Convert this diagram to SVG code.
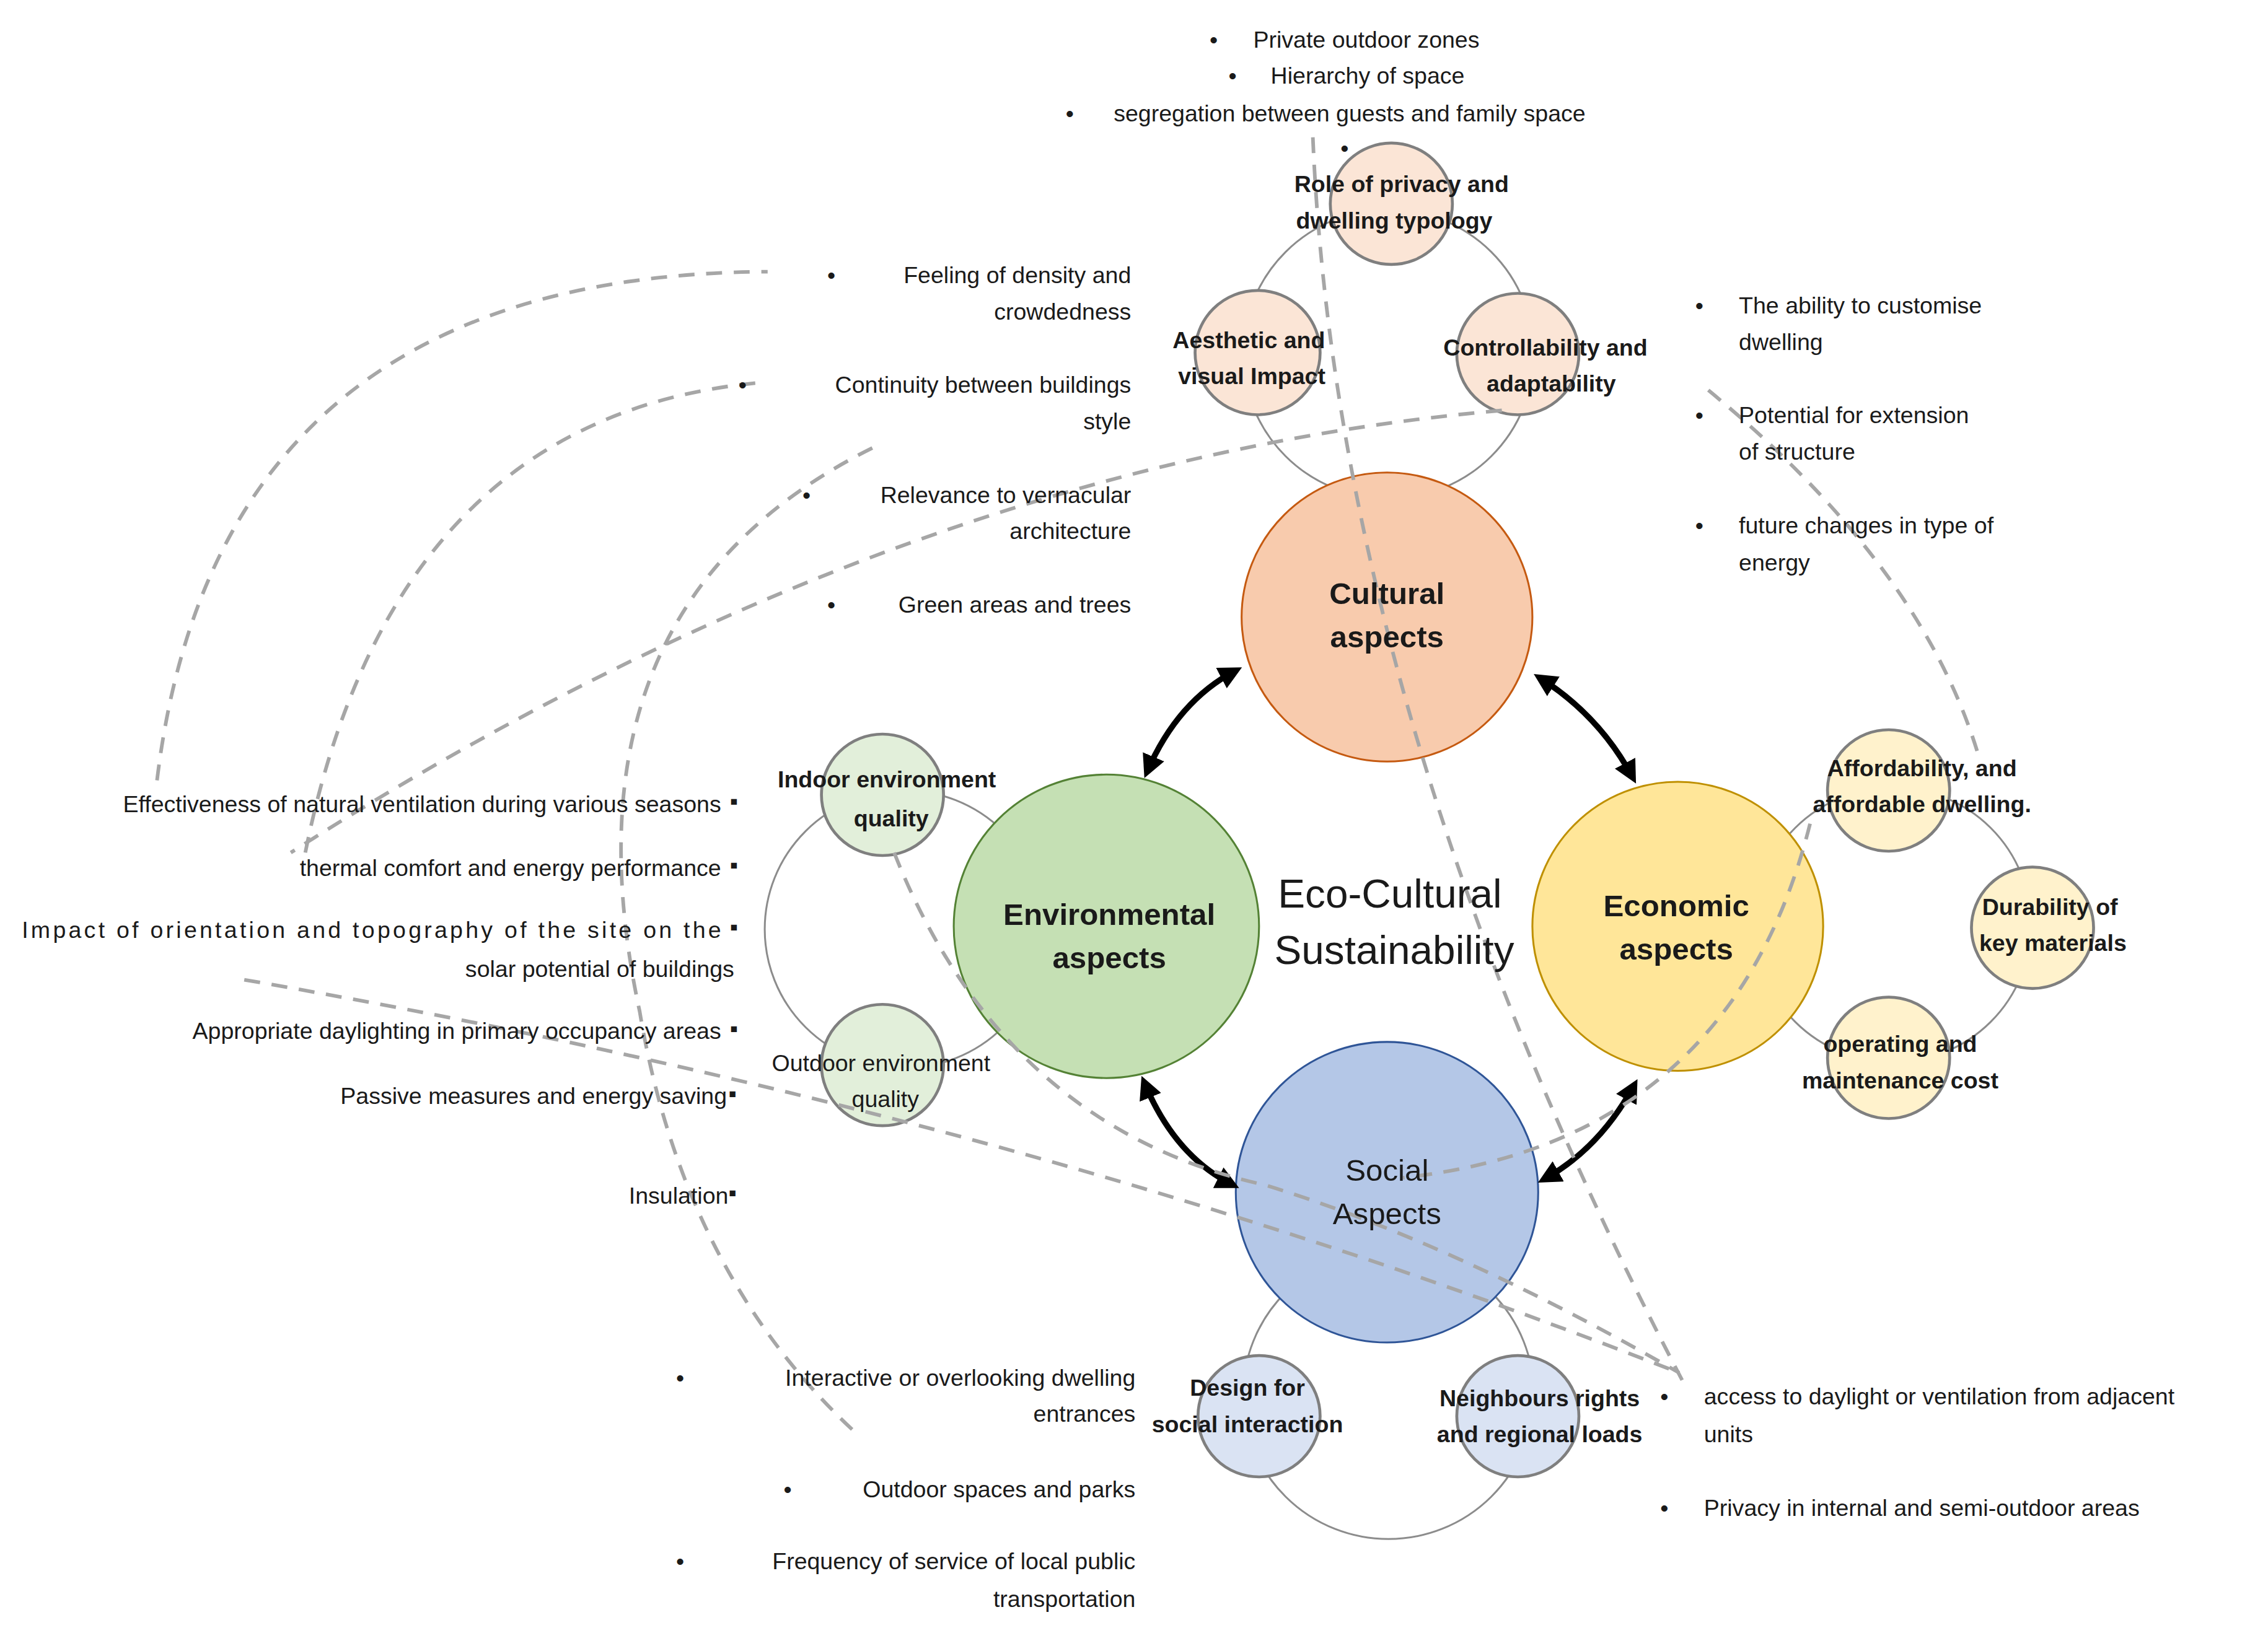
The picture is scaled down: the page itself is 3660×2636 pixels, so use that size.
<svg xmlns="http://www.w3.org/2000/svg" width="3660" height="2636" viewBox="0 0 3660 2636">
<style>
text{font-family:"Liberation Sans",Arial,sans-serif;font-size:16px;fill:#1a1a1a}
.b{font-weight:bold}
.m{text-anchor:middle}
.e{text-anchor:end}
.ring{fill:none;stroke:#8c8c8c;stroke-width:1.3}
.sm{stroke:#7f7f7f;stroke-width:2}
.d{fill:none;stroke:#a6a6a6;stroke-width:2.5;stroke-dasharray:11 8}
.ar{fill:none;stroke:#000;stroke-width:4;marker-start:url(#h);marker-end:url(#h)}
.big{font-size:21px}
</style>
<defs>
<marker id="h" viewBox="0 0 10 10" refX="7" refY="5" markerWidth="4" markerHeight="4" orient="auto-start-reverse"><path d="M0,0L10,5L0,10z" fill="#000"/></marker>
</defs>
<rect width="3660" height="2636" fill="#fff"/>
<g transform="scale(2.3462,2.3327)">
<g id="rings">
<circle class="ring" cx="955" cy="245" r="100"/>
<circle class="ring" cx="622" cy="643" r="96"/>
<circle class="ring" cx="1302" cy="640" r="95"/>
<circle class="ring" cx="955" cy="965" r="100"/>
</g>
<g id="n-role"><circle class="sm" cx="957" cy="141" r="42" fill="#fbe5d6"/></g>
<g id="n-aes"><circle class="sm" cx="865" cy="244" r="43" fill="#fbe5d6"/></g>
<g id="n-ctrl"><circle class="sm" cx="1044" cy="245" r="42" fill="#fbe5d6"/></g>
<g id="n-indoor"><circle class="sm" cx="607" cy="550" r="42" fill="#e2efda"/></g>
<g id="n-outdoor"><circle class="sm" cx="607" cy="737" r="42" fill="#e2efda"/></g>
<g id="n-afford"><circle class="sm" cx="1299" cy="547" r="42" fill="#fff2cc"/></g>
<g id="n-dur"><circle class="sm" cx="1398" cy="642" r="42" fill="#fff2cc"/></g>
<g id="n-oper"><circle class="sm" cx="1299" cy="732" r="42" fill="#fff2cc"/></g>
<g id="n-design"><circle class="sm" cx="866" cy="980" r="42" fill="#dae3f3"/></g>
<g id="n-neigh"><circle class="sm" cx="1044" cy="980" r="42" fill="#dae3f3"/></g>
<g id="n-cultural"><circle cx="954" cy="427" r="100" fill="#f8cbad" stroke="#c55a11" stroke-width="1.3"/></g>
<g id="n-env"><circle cx="761" cy="641" r="105" fill="#c5e0b4" stroke="#548235" stroke-width="1.3"/></g>
<g id="n-econ"><circle cx="1154" cy="641" r="100" fill="#ffe699" stroke="#bf9000" stroke-width="1.3"/></g>
<g id="n-social"><circle cx="954" cy="825" r="104" fill="#b4c7e7" stroke="#2f5597" stroke-width="1.3"/></g>
<g id="connectors">
<path class="ar" d="M789,534 Q810,485 850,464"/>
<path class="ar" d="M1059,469 Q1100,495 1123,538"/>
<path class="ar" d="M787,749 Q808,800 848,820"/>
<path class="ar" d="M1124,751 Q1100,795 1062,816"/>
<path class="d" d="M108,540 Q150,190 528,188"/>
<path class="d" d="M210,590 Q270,290 520,265"/>
<path class="d" d="M600,310 Q380,420 440,700 Q470,880 587,990"/>
<path class="d" d="M1033,284 Q620,320 200,590"/>
<path class="d" d="M903,95 Q920,500 1157,955"/>
<path class="d" d="M1175,270 Q1320,390 1360,520"/>
<path class="d" d="M1245,570 Q1190,790 965,815"/>
<path class="d" d="M168,678 Q700,770 1155,950"/>
<path class="d" d="M615,590 Q690,780 870,820 Q1000,860 1155,950"/>
</g>
<g id="labels">
<text class="b m"><tspan x="964" y="133">Role of privacy and</tspan><tspan x="959" y="158">dwelling typology</tspan></text>
<text class="b m"><tspan x="859" y="241">Aesthetic and</tspan><tspan x="861" y="266">visual Impact</tspan></text>
<text class="b m"><tspan x="1063" y="246">Controllability and</tspan><tspan x="1067" y="271">adaptability</tspan></text>
<text class="b m big"><tspan x="954" y="418">Cultural</tspan><tspan x="954" y="448">aspects</tspan></text>
<text class="b m big"><tspan x="763" y="640">Environmental</tspan><tspan x="763" y="670">aspects</tspan></text>
<text class="b m big"><tspan x="1153" y="634">Economic</tspan><tspan x="1153" y="664">aspects</tspan></text>
<text class="m big"><tspan x="954" y="817">Social</tspan><tspan x="954" y="847">Aspects</tspan></text>
<text class="m" style="font-size:28px"><tspan x="956" y="628">Eco-Cultural</tspan><tspan x="959" y="667">Sustainability</tspan></text>
<text class="b m"><tspan x="610" y="545">Indoor environment</tspan><tspan x="613" y="572">quality</tspan></text>
<text class="m"><tspan x="606" y="741">Outdoor environment</tspan><tspan x="609" y="766">quality</tspan></text>
<text class="b m"><tspan x="1322" y="537">Affordability, and</tspan><tspan x="1322" y="562">affordable dwelling.</tspan></text>
<text class="b m"><tspan x="1410" y="633">Durability of</tspan><tspan x="1412" y="658">key materials</tspan></text>
<text class="b m"><tspan x="1307" y="728">operating and</tspan><tspan x="1307" y="753">maintenance cost</tspan></text>
<text class="b m"><tspan x="858" y="966">Design for</tspan><tspan x="858" y="991">social interaction</tspan></text>
<text class="b m"><tspan x="1059" y="973">Neighbours rights</tspan><tspan x="1059" y="998">and regional loads</tspan></text>
</g>
<g id="notes">
<text x="832" y="33">•</text><text x="862" y="33">Private outdoor zones</text>
<text x="845" y="58">•</text><text x="874" y="58">Hierarchy of  space</text>
<text x="733" y="84">•</text><text x="766" y="84">segregation between  guests and family space</text>
<text x="922" y="108">•</text>
<text x="569" y="196">•</text><text class="e"><tspan x="778" y="196">Feeling of density and</tspan><tspan x="778" y="221">crowdedness</tspan></text>
<text x="508" y="272">•</text><text class="e"><tspan x="778" y="272">Continuity between buildings</tspan><tspan x="778" y="297">style</tspan></text>
<text x="552" y="348">•</text><text class="e"><tspan x="778" y="348">Relevance to vernacular</tspan><tspan x="778" y="373">architecture</tspan></text>
<text x="569" y="424">•</text><text class="e" x="778" y="424">Green areas and trees</text>
<text x="1166" y="217">•</text><text><tspan x="1196" y="217">The ability to customise</tspan><tspan x="1196" y="242">dwelling</tspan></text>
<text x="1166" y="293">•</text><text><tspan x="1196" y="293">Potential for extension</tspan><tspan x="1196" y="318">of structure</tspan></text>
<text x="1166" y="369">•</text><text><tspan x="1196" y="369">future changes in type of</tspan><tspan x="1196" y="395">energy</tspan></text>
<text class="e" x="496" y="562">Effectiveness of natural ventilation during various seasons</text><text x="502" y="560">▪</text>
<text class="e" x="496" y="606">thermal comfort and energy performance</text><text x="502" y="604">▪</text>
<text x="15" y="649" textLength="481">Impact of orientation and topography of the site on the</text><text x="502" y="647">▪</text>
<text class="e" x="505" y="676">solar potential of buildings</text>
<text class="e" x="496" y="719">Appropriate daylighting in primary occupancy areas</text><text x="502" y="717">▪</text>
<text class="e" x="500" y="764">Passive measures and energy saving</text><text x="501" y="762">▪</text>
<text class="e" x="501" y="833">Insulation</text><text x="501" y="831">▪</text>
<text x="465" y="959">•</text><text class="e"><tspan x="781" y="959">Interactive or overlooking dwelling</tspan><tspan x="781" y="984">entrances</tspan></text>
<text x="539" y="1036">•</text><text class="e" x="781" y="1036">Outdoor spaces and parks</text>
<text x="465" y="1086">•</text><text class="e"><tspan x="781" y="1086">Frequency of service of local public</tspan><tspan x="781" y="1112">transportation</tspan></text>
<text x="1142" y="972">•</text><text><tspan x="1172" y="972">access to daylight or ventilation from adjacent</tspan><tspan x="1172" y="998">units</tspan></text>
<text x="1142" y="1049">•</text><text x="1172" y="1049">Privacy in internal and semi-outdoor areas</text>
</g>
</g>
</svg>
